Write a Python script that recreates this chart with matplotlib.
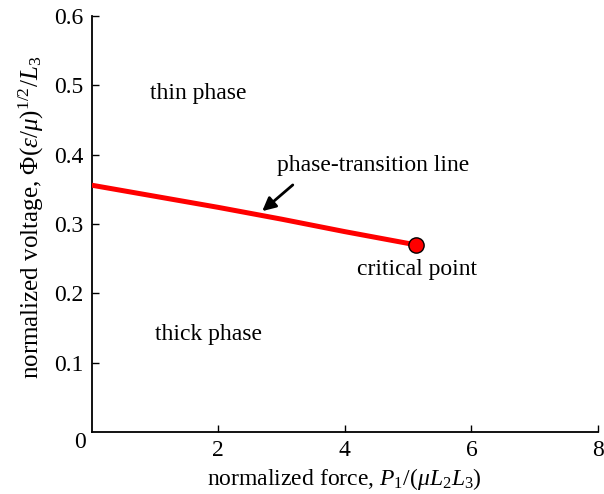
import matplotlib
matplotlib.use("Agg")
import matplotlib.pyplot as plt

plt.rcParams['font.family'] = ['Liberation Serif', 'DejaVu Serif']
plt.rcParams['mathtext.fontset'] = 'custom'
plt.rcParams['mathtext.rm'] = 'Liberation Serif'
plt.rcParams['mathtext.it'] = 'Liberation Serif:italic'
plt.rcParams['mathtext.bf'] = 'Liberation Serif:bold'

force = [0.0, 1.0, 2.0, 3.0, 4.0, 5.12]
voltage = [0.356, 0.340, 0.324, 0.307, 0.289, 0.270]
critical_force = 5.12
critical_voltage = 0.270
xticks = [2, 4, 6, 8]
yticks = [0.1, 0.2, 0.3, 0.4, 0.5, 0.6]

fig = plt.figure(figsize=(6.04, 4.94), dpi=100)
ax = fig.add_axes([0.152, 0.1255, 0.838, 0.842])
ax.plot(force, voltage, color='#ff0000', lw=3.6, solid_capstyle='butt', zorder=3)
ax.plot([critical_force], [critical_voltage], 'o', ms=11, mfc='#ff0000', mec='black', mew=1.0, zorder=4)

ax.set_xlim(0, 8)
ax.set_ylim(0, 0.6)
ax.set_xticks(xticks)
ax.set_yticks(yticks)
ax.set_xticklabels([str(t) for t in xticks])
ax.set_yticklabels([f"{t:.1f}" for t in yticks])
ax.tick_params(direction='in', length=5, width=1, labelsize=17, pad=6)
for s in ['top', 'right']:
    ax.spines[s].set_visible(False)
for s in ['left', 'bottom']:
    ax.spines[s].set_linewidth(1.3)
ax.text(-0.1, -0.0, '0', fontsize=17, ha='right', va='top', transform=ax.transData)

ax.set_xlabel(r'normalized force, $P_1/(\mu L_2 L_3)$', fontsize=17, labelpad=3)
ax.set_ylabel('normalized voltage, $\\mathit{\u03A6}(\\varepsilon/\\mu)^{1/2}/L_3$', fontsize=18)
ax.yaxis.set_label_coords(-0.09, 0.515)

ax.text(1.68, 0.489, 'thin phase', fontsize=17, ha='center', va='center')
ax.text(1.85, 0.14, 'thick phase', fontsize=17, ha='center', va='center')
ax.text(4.44, 0.385, 'phase-transition line', fontsize=17, ha='center', va='center')
ax.text(5.14, 0.234, 'critical point', fontsize=17, ha='center', va='center')
ax.annotate('', xy=(2.66, 0.316), xytext=(3.21, 0.359),
            arrowprops=dict(arrowstyle='-|>', color='black', lw=2, mutation_scale=20))

fig.savefig('out.png', dpi=100)
